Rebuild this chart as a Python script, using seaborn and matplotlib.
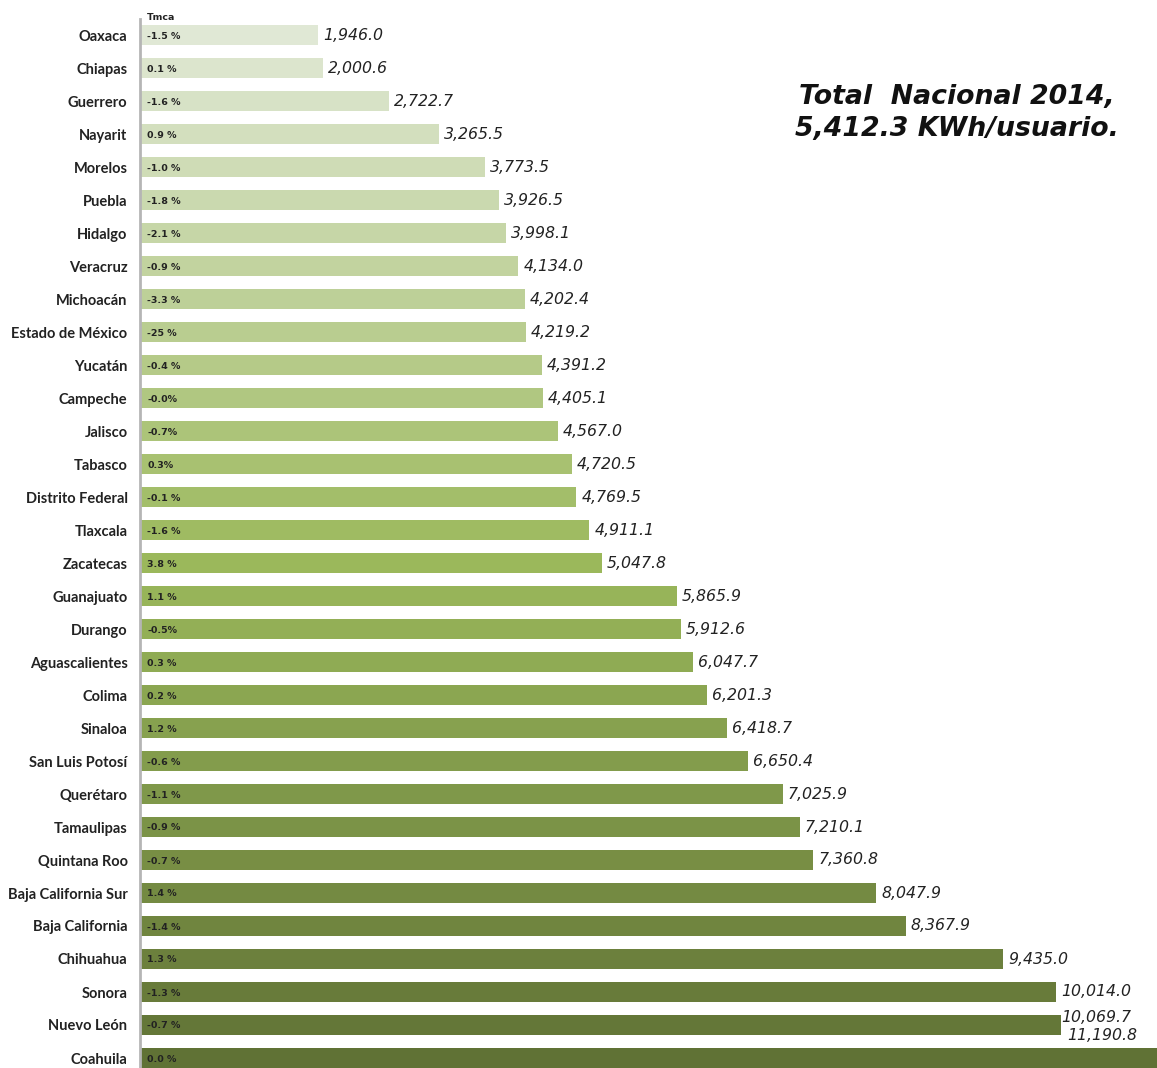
import matplotlib
matplotlib.use("Agg")
import matplotlib.pyplot as plt
import seaborn as sns
import pandas as pd

estados = ["Oaxaca", "Chiapas", "Guerrero", "Nayarit", "Morelos", "Puebla", "Hidalgo",
           "Veracruz", "Michoacán", "Estado de México", "Yucatán", "Campeche", "Jalisco",
           "Tabasco", "Distrito Federal", "Tlaxcala", "Zacatecas", "Guanajuato", "Durango",
           "Aguascalientes", "Colima", "Sinaloa", "San Luis Potosí", "Querétaro",
           "Tamaulipas", "Quintana Roo", "Baja California Sur", "Baja California",
           "Chihuahua", "Sonora", "Nuevo León", "Coahuila"]
consumo = [1946.0, 2000.6, 2722.7, 3265.5, 3773.5, 3926.5, 3998.1, 4134.0, 4202.4, 4219.2,
           4391.2, 4405.1, 4567.0, 4720.5, 4769.5, 4911.1, 5047.8, 5865.9, 5912.6, 6047.7,
           6201.3, 6418.7, 6650.4, 7025.9, 7210.1, 7360.8, 8047.9, 8367.9, 9435.0, 10014.0,
           10069.7, 11190.8]
tmca = ["-1.5 %", "0.1 %", "-1.6 %", "0.9 %", "-1.0 %", "-1.8 %", "-2.1 %", "-0.9 %",
        "-3.3 %", "-25 %", "-0.4 %", "-0.0%", "-0.7%", "0.3%", "-0.1 %", "-1.6 %", "3.8 %",
        "1.1 %", "-0.5%", "0.3 %", "0.2 %", "1.2 %", "-0.6 %", "-1.1 %", "-0.9 %", "-0.7 %",
        "1.4 %", "-1.4 %", "1.3 %", "-1.3 %", "-0.7 %", "0.0 %"]
titulo = "Total  Nacional 2014,\n5,412.3 KWh/usuario."

df = pd.DataFrame({"estado": estados, "consumo": consumo})

sns.set_theme(style="white")
plt.rcParams["font.family"] = ["DejaVu Sans"]

pal = (sns.blend_palette(["#e0e8d5", "#9bb85b"], 17)
       + sns.blend_palette(["#97b459", "#607235"], 15))

W, H = 1157, 1068
fig = plt.figure(figsize=(W / 100, H / 100), dpi=100)
top_px, bot_px = 18.5, 1074.5
ax = fig.add_axes([140 / W, 1 - bot_px / H, 1 - 140 / W, (bot_px - top_px) / H])

sns.barplot(data=df, y="estado", x="consumo", hue="estado", palette=pal, legend=False,
            width=0.58, saturation=1, linewidth=0, ax=ax)

ax.set_xlim(0, 11115)
ax.set_ylim(31.5, -0.5)
ax.set_xlabel("")
ax.set_ylabel("")
ax.set_xticks([])
for s in ["top", "right", "bottom"]:
    ax.spines[s].set_visible(False)
ax.spines["left"].set_color("#b5b5b5")
ax.spines["left"].set_linewidth(2)
ax.tick_params(axis="y", length=0, pad=9)
for lab in ax.get_yticklabels():
    lab.set_fontsize(10.5)
    lab.set_fontweight("bold")
    lab.set_family("Lato")
    lab.set_color("#222222")

n = len(estados)
for i, (v, t) in enumerate(zip(consumo, tmca)):
    ax.annotate(t, xy=(0, i), xytext=(7, -1), textcoords="offset pixels",
                ha="left", va="center", fontsize=6.8, fontweight="bold", color="#222222")
    if i == n - 1:
        ax.annotate(f"{v:,.1f}", xy=(consumo[n - 2], i), xytext=(6, 22),
                    textcoords="offset pixels", ha="left", va="center",
                    fontsize=11.3, style="italic", color="#222222", annotation_clip=False)
    elif i == n - 2:
        ax.annotate(f"{v:,.1f}", xy=(v, i), xytext=(0, 8), textcoords="offset pixels",
                    ha="left", va="center", fontsize=11.3, style="italic", color="#222222")
    else:
        ax.annotate(f"{v:,.1f}", xy=(v, i), xytext=(5, 0), textcoords="offset pixels",
                    ha="left", va="center", fontsize=11.3, style="italic", color="#222222")

fig.text(147 / W, 1 - 18 / H, "Tmca", fontsize=6.8, fontweight="bold", color="#222222",
         ha="left", va="center")

fig.text(957 / W, 1 - 113 / H, titulo, fontsize=19.3, fontweight="bold", style="italic",
         ha="center", va="center", multialignment="center", linespacing=1.35, color="#111111")

fig.savefig("out.png", dpi=100)
